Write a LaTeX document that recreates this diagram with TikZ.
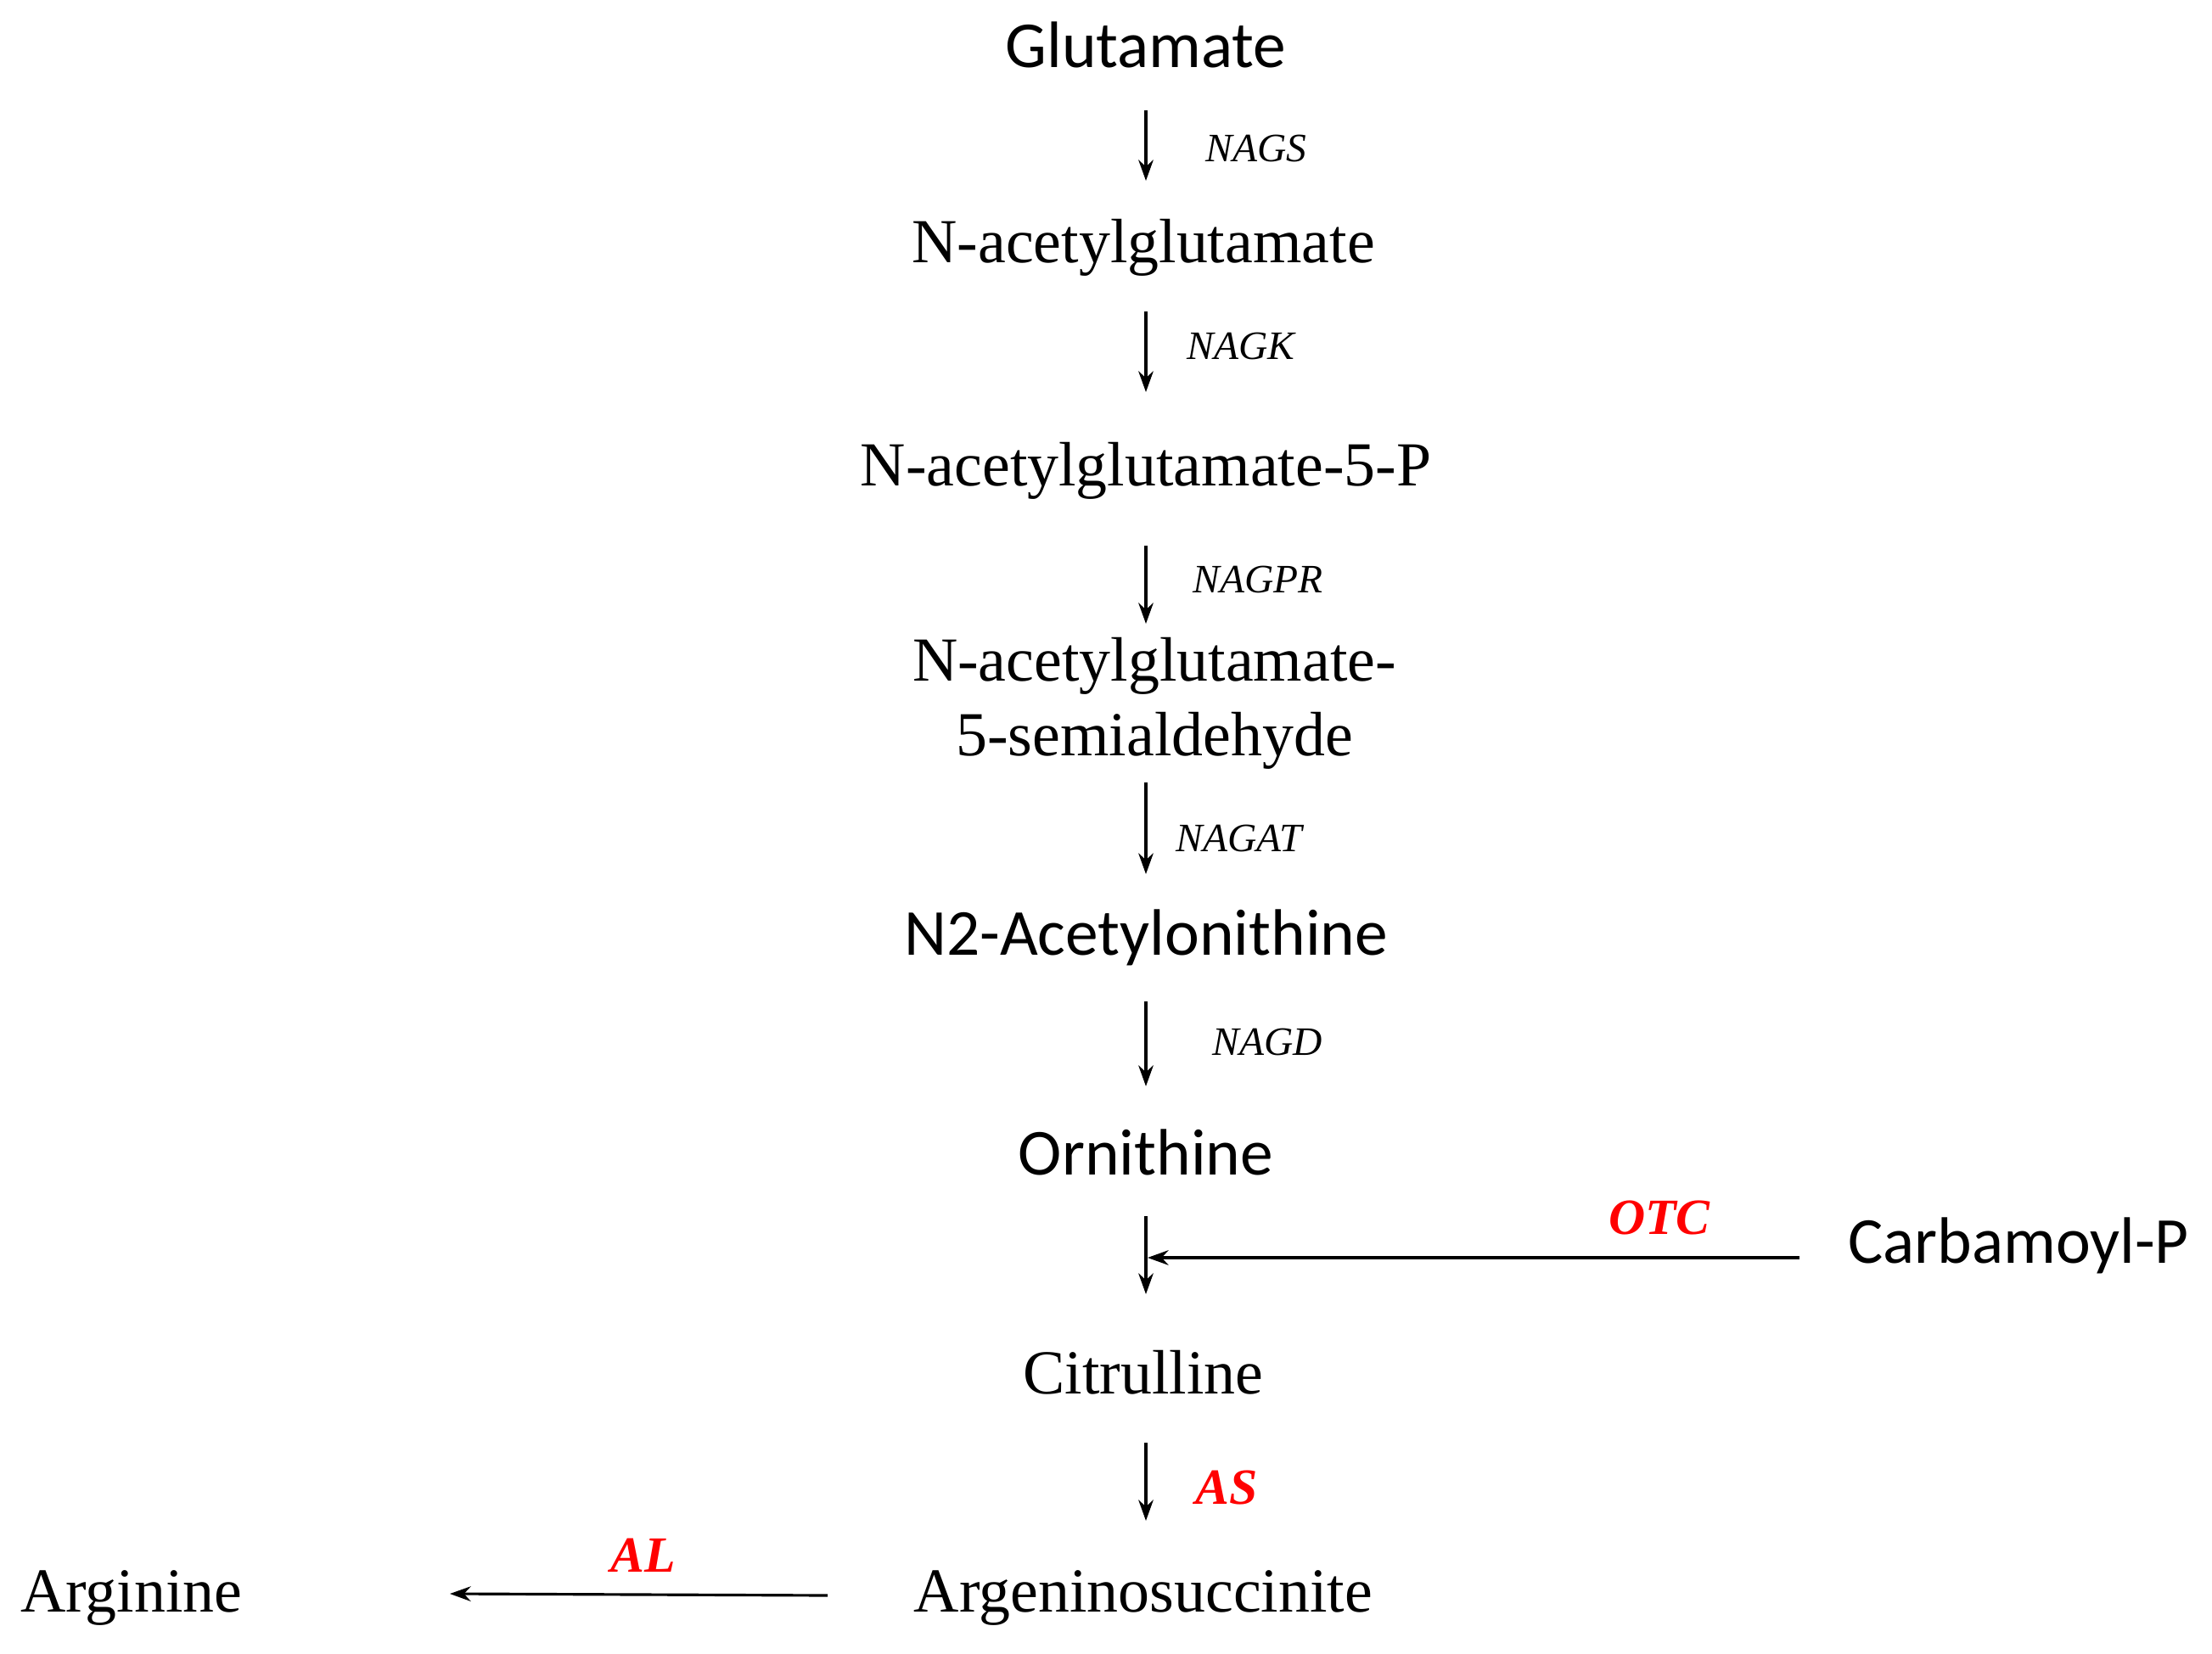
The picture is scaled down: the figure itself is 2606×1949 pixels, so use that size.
\documentclass[tikz,border=0pt]{standalone}
\usepackage{fontspec}
\setmainfont{Liberation Serif}
\newfontfamily\sansf{Carlito}
\usetikzlibrary{arrows.meta}
\begin{document}
\begin{tikzpicture}[x=0.01cm,y=-0.01cm,
  ser/.style={font=\fontsize{21}{25}\selectfont},
  san/.style={font=\sansf\fontsize{22}{26}\selectfont},
  enz/.style={font=\itshape\fontsize{13.5}{16}\selectfont,anchor=center},
  enzr/.style={font=\bfseries\itshape\fontsize{17}{20}\selectfont,text=red},
  arr/.style={line width=0.9pt,-{Stealth[length=7pt,width=5pt]}}]
\useasboundingbox (0,0) rectangle (2606,1949);
\node[san] (glu) at (1350,53) {Glutamate};
\node[ser] (nag) at (1347,292) {N-acetylglutamate};
\node[ser] (nagp) at (1350,555) {N-acetylglutamate-5-P};
\node[ser,align=center] (sem) at (1360,829) {N-acetylglutamate-\\5-semialdehyde};
\node[san] (n2) at (1350,1105) {N2-Acetylonithine};
\node[san] (orn) at (1350,1358) {Ornithine};
\node[san] (carb) at (2378,1468) {Carbamoyl-P};
\node[ser] (cit) at (1347,1617) {Citrulline};
\node[ser] (arg) at (1347,1883) {Argeninosuccinite};
\node[ser] (argi) at (155,1883) {Arginine};
\coordinate (a1) at (1350,130); \coordinate (b1) at (1350,213);
\coordinate (a2) at (1350,367); \coordinate (b2) at (1350,462);
\coordinate (a3) at (1350,643); \coordinate (b3) at (1350,735);
\coordinate (a4) at (1350,922); \coordinate (b4) at (1350,1030);
\coordinate (a5) at (1350,1180); \coordinate (b5) at (1350,1280);
\coordinate (a6) at (1350,1433); \coordinate (b6) at (1350,1525);
\coordinate (a7) at (1350,1700); \coordinate (b7) at (1350,1792);
\coordinate (h1) at (2120,1482); \coordinate (h2) at (1352,1482);
\coordinate (l1) at (975,1880); \coordinate (l2) at (530,1878);
\draw[arr] (a1)--(b1); \draw[arr] (a2)--(b2); \draw[arr] (a3)--(b3);
\draw[arr] (a4)--(b4); \draw[arr] (a5)--(b5); \draw[arr] (a6)--(b6);
\draw[arr] (a7)--(b7); \draw[arr] (h1)--(h2); \draw[arr] (l1)--(l2);
\node[enz] (e1) at (1480,175) {NAGS};
\node[enz] (e2) at (1462,408) {NAGK};
\node[enz] (e3) at (1482,683) {NAGPR};
\node[enz] (e4) at (1460,988) {NAGAT};
\node[enz] (e5) at (1493,1228) {NAGD};
\node[enzr] (e6) at (1955,1435) {OTC};
\node[enzr] (e7) at (1445,1753) {AS};
\node[enzr] (e8) at (758,1833) {AL};
\end{tikzpicture}
\end{document}
